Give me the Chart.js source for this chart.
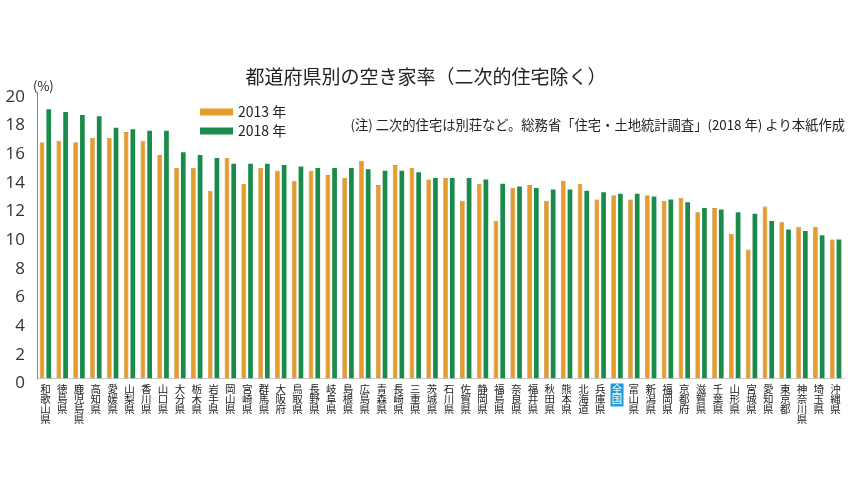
<!DOCTYPE html>
<html>
<head>
<meta charset="utf-8">
<script src="https://cdn.jsdelivr.net/npm/chart.js@4.4.1/dist/chart.umd.min.js"></script>
<style>
  html, body { margin: 0; padding: 0; background: #fff; overflow: hidden; }
</style>
</head>
<body>
<canvas id="c" width="850" height="496"></canvas>
<script>
// data, sorted by 2018 value
const prefs = ['和歌山県','徳島県','鹿児島県','高知県','愛媛県','山梨県','香川県','山口県','大分県','栃木県',
  '岩手県','岡山県','宮崎県','群馬県','大阪府','鳥取県','長野県','岐阜県','島根県','広島県',
  '青森県','長崎県','三重県','茨城県','石川県','佐賀県','静岡県','福島県','奈良県','福井県',
  '秋田県','熊本県','北海道','兵庫県','全国','富山県','新潟県','福岡県','京都府','滋賀県',
  '千葉県','山形県','宮城県','愛知県','東京都','神奈川県','埼玉県','沖縄県'];
const rate2013 = [16.5,16.6,16.5,16.8,16.8,17.2,16.6,15.6,14.7,14.7,
  13.1,15.4,13.6,14.7,14.5,13.8,14.5,14.2,14.0,15.2,
  13.5,14.9,14.7,13.9,14.0,12.4,13.6,11.0,13.3,13.5,
  12.4,13.8,13.6,12.5,12.8,12.5,12.8,12.4,12.6,11.6,
  11.9,10.1,9.0,12.0,10.9,10.6,10.6,9.7];
const rate2018 = [18.8,18.6,18.4,18.3,17.5,17.4,17.3,17.3,15.8,15.6,
  15.4,15.0,15.0,15.0,14.9,14.8,14.7,14.7,14.7,14.6,
  14.5,14.5,14.4,14.0,14.0,14.0,13.9,13.6,13.4,13.3,
  13.2,13.2,13.1,13.0,12.9,12.9,12.7,12.5,12.3,11.9,
  11.8,11.6,11.5,11.0,10.4,10.3,10.0,9.7];
const seriesNames = ['2013 年', '2018 年'];
const yTicks = [0,2,4,6,8,10,12,14,16,18,20];
const highlight = '全国';

const ORANGE = '#E59C2A';
const GREEN = '#1B8B4B';
const JP = '"Noto Sans CJK JP", "Noto Sans", sans-serif';
const LABEL_PAD = 6, LABEL_LH = 10;

// blue box behind the 全国 label, drawn before the axis labels
const markNational = {
  id: 'markNational',
  beforeDraw(chart) {
    const x = chart.scales.x;
    const i = prefs.indexOf(highlight);
    const cx = x.getPixelForValue(i);
    const ctx = chart.ctx;
    ctx.save();
    ctx.fillStyle = '#1E9BD8';
    ctx.fillRect(cx - 6.5, x.top + LABEL_PAD - 1, 13, highlight.length * LABEL_LH + 3);
    ctx.restore();
  }
};

// title, legend, unit and note drawn on the canvas
const decor = {
  id: 'decor',
  afterDraw(chart) {
    const ctx = chart.ctx;
    ctx.save();
    ctx.fillStyle = '#222';
    ctx.textBaseline = 'middle';
    ctx.font = '19px ' + JP;
    ctx.textAlign = 'center';
    ctx.fillText('都道府県別の空き家率（二次的住宅除く）', 426, 77);

    ctx.font = '13px ' + JP;
    ctx.textAlign = 'left';
    ctx.fillText('(%)', 33, 86);

    const cols = [ORANGE, GREEN];
    chart.data.datasets.forEach((ds, i) => {
      const y = 112 + i * 19;
      ctx.fillStyle = cols[i];
      ctx.fillRect(200, y - 3.5, 33, 7);
      ctx.fillStyle = '#222';
      ctx.font = '14px ' + JP;
      ctx.fillText(ds.label, 238, y);
    });

    ctx.font = '13.3px ' + JP;
    ctx.textAlign = 'right';
    ctx.fillText('(注) 二次的住宅は別荘など。総務省「住宅・土地統計調査」(2018 年) より本紙作成', 845, 125);
    ctx.restore();
  }
};

new Chart(document.getElementById('c'), {
  type: 'bar',
  data: {
    labels: prefs.map(p => p.split('')),
    datasets: [
      { label: seriesNames[0], data: rate2013, backgroundColor: ORANGE, borderColor: '#B9781C', borderWidth: 0.6 },
      { label: seriesNames[1], data: rate2018, backgroundColor: GREEN, borderColor: GREEN, borderWidth: 0 }
    ]
  },
  plugins: [markNational, decor],
  options: {
    responsive: false,
    animation: false,
    devicePixelRatio: 1,
    layout: { padding: { top: 92, right: 6, bottom: 0, left: 0 } },
    datasets: { bar: { categoryPercentage: 0.8, barPercentage: 0.7 } },
    plugins: {
      legend: { display: false },
      title: { display: false },
      tooltip: { enabled: false }
    },
    scales: {
      x: {
        grid: { display: false, drawTicks: false },
        border: { display: true, color: '#ccc', width: 1 },
        afterFit(s) { s.height = 117.5; },
        ticks: {
          autoSkip: false,
          maxRotation: 0,
          minRotation: 0,
          padding: LABEL_PAD,
          font: { family: JP, size: 10.5, lineHeight: LABEL_LH + 'px' },
          color: ctx => prefs[ctx.index] === highlight ? '#fff' : '#222'
        }
      },
      y: {
        min: 0,
        max: 20,
        afterFit(s) { s.width = 37; },
        afterBuildTicks(s) { s.ticks = yTicks.map(v => ({ value: v })); },
        grid: { display: false, drawTicks: false },
        border: { display: true, color: '#888', width: 1 },
        ticks: {
          padding: 12,
          color: '#333',
          font: { family: '"Open Sans", sans-serif', size: 17, lineHeight: '10px' },
          // the printed labels sit a little below their values
          callback: v => ['', String(v)]
        }
      }
    }
  }
});
</script>
</body>
</html>
